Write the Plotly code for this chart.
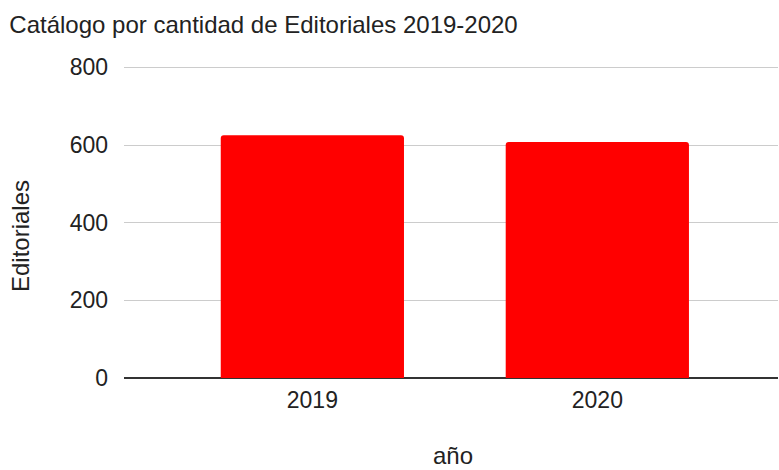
import plotly.graph_objects as go

years = ["2019", "2020"]
editoriales = [625, 608]
y_ticks = [0, 200, 400, 600, 800]

fig = go.Figure(
    go.Bar(
        x=years,
        y=editoriales,
        marker=dict(color="#ff0000", line=dict(width=0)),
        width=0.643,
    )
)

font_family = "Liberation Sans, Arial, sans-serif"
text_color = "#222222"

W, H = 779, 470
M_L, M_R, M_T, M_B = 124, 1, 65, 92
plot_w = W - M_L - M_R
plot_h = H - M_T - M_B


def px_to_paper(px, py):
    """Convert pixel position on the page to paper coordinates."""
    return (px - M_L) / plot_w, (H - M_B - py) / plot_h


fig.update_layout(
    width=W,
    height=H,
    margin=dict(l=M_L, r=M_R, t=M_T, b=M_B),
    paper_bgcolor="white",
    plot_bgcolor="white",
    barcornerradius=3,
    showlegend=False,
    font=dict(family=font_family, color=text_color),
    title=dict(
        text="Catálogo por cantidad de Editoriales 2019-2020",
        x=0.012,
        xanchor="left",
        y=0.947,
        yanchor="middle",
        font=dict(size=24, color=text_color, family=font_family),
    ),
    xaxis=dict(
        range=[-0.661, 1.634],
        showgrid=False,
        showline=False,
        ticks="",
        ticklabelstandoff=6,
        tickfont=dict(size=23, color=text_color),
    ),
    yaxis=dict(
        range=[0, 806],
        tickvals=y_ticks,
        ticktext=[str(v) for v in y_ticks],
        showgrid=True,
        gridcolor="#cccccc",
        gridwidth=1,
        zeroline=True,
        zerolinecolor="#333333",
        zerolinewidth=1.5,
        ticks="",
        ticklabelstandoff=15,
        tickfont=dict(size=23, color=text_color),
    ),
)

# Axis titles
ax, ay = px_to_paper(453, 455)
fig.add_annotation(
    text="año", xref="paper", yref="paper", x=ax, y=ay,
    xanchor="center", yanchor="middle", showarrow=False,
    font=dict(size=24, color=text_color, family=font_family),
)
ex, ey = px_to_paper(20, 236)
fig.add_annotation(
    text="Editoriales", xref="paper", yref="paper", x=ex, y=ey,
    xanchor="center", yanchor="middle", showarrow=False, textangle=-90,
    font=dict(size=24, color=text_color, family=font_family),
)

fig.write_html("out.html")
